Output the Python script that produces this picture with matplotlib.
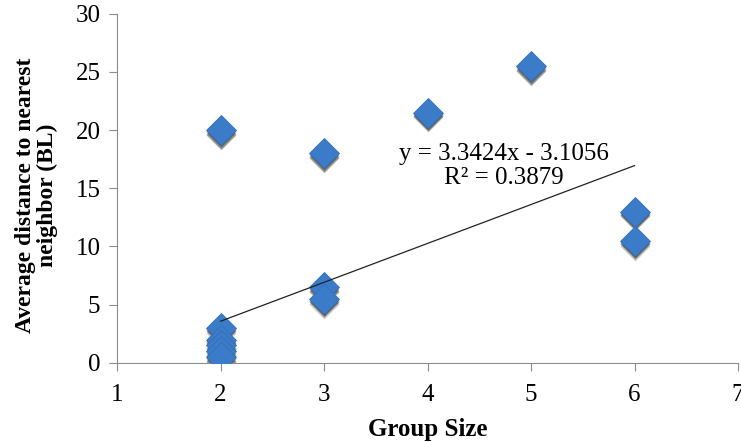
import numpy as np
import matplotlib
matplotlib.use('Agg')
import matplotlib.pyplot as plt
from matplotlib import transforms

plt.rcParams['font.family'] = ['Liberation Serif', 'DejaVu Serif']

# data
group_size = [2, 2, 2, 2, 2, 2, 3, 3, 3, 4, 5, 6, 6]
distance = [20, 3, 2, 1.5, 1, 0.5, 18, 6.5, 5.5, 21.5, 25.5, 13, 10.5]

# linear trendline as printed on the chart
slope = 3.3424
intercept = -3.1056
r_squared = 0.3879

fig = plt.figure(figsize=(7.41, 4.42), dpi=100)
ax = fig.add_axes([0.158, 0.179, 0.838, 0.79])

# soft shadow under each marker
for dy, a in [(-3.5, 0.2), (-2.5, 0.3), (-1.5, 0.3)]:
    shadow = transforms.offset_copy(ax.transData, fig=fig, x=0, y=dy, units='points')
    ax.plot(group_size, distance, 'D', ms=15.5, color='black', alpha=a,
            mec='none', transform=shadow, zorder=2)
ax.plot(group_size, distance, 'D', ms=15, color='#3B7BC8', mec='#3070BC',
        mew=0.6, zorder=3)

x_fit = np.array([min(group_size), max(group_size)])
ax.plot(x_fit, slope * x_fit + intercept, color='#222222', lw=0.9, zorder=4)

ax.text(4.74, 16.9, f'y = {slope}x - {abs(intercept)}\nR² = {r_squared}',
        ha='center', va='center', fontsize=18, linespacing=1.15)

ax.set_xlim(1, 7)
ax.set_ylim(0, 30)
ax.set_xticks(range(1, 8))
ax.set_yticks(range(0, 31, 5))
for s in ['top', 'right']:
    ax.spines[s].set_visible(False)
for s in ['left', 'bottom']:
    ax.spines[s].set_color('#8c8c8c')
ax.tick_params(direction='out', length=6, color='#8c8c8c', labelsize=18, pad=6)
ax.tick_params(axis='x', pad=9)
ax.set_xlabel('Group Size', fontsize=18, fontweight='bold', labelpad=9)
ax.set_ylabel('Average distance to nearest\nneighbor (BL)', fontsize=17,
              fontweight='bold', linespacing=1.05)
ax.yaxis.set_label_coords(-0.095, 0.48)

fig.savefig('out.png', dpi=100)
